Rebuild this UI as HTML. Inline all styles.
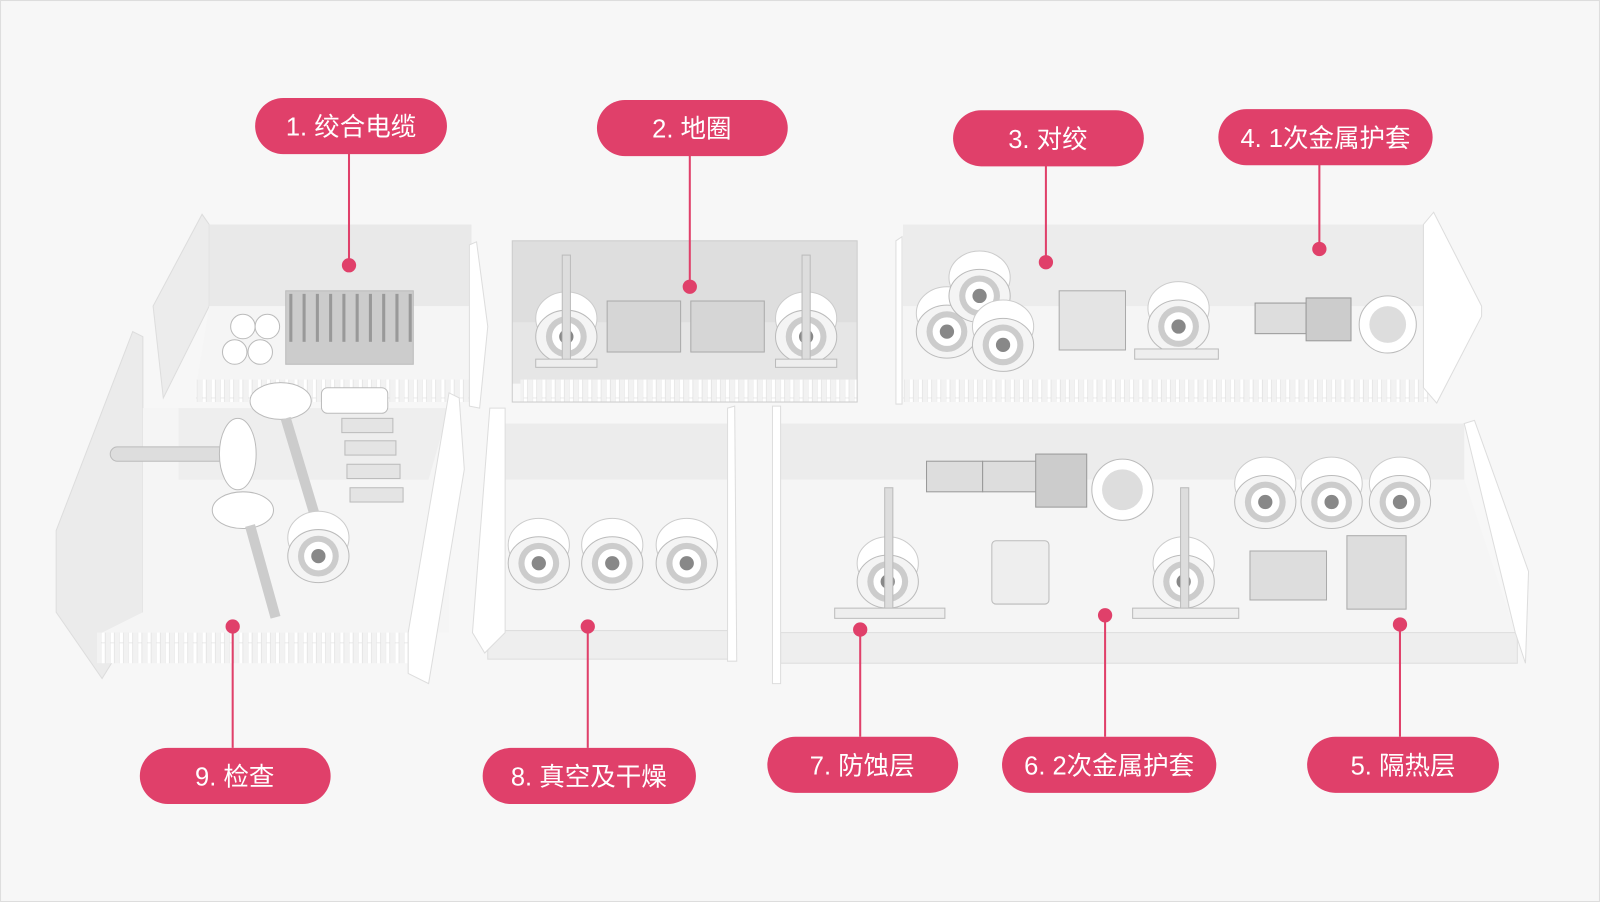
<!DOCTYPE html>
<html><head><meta charset="utf-8"><style>
html,body{margin:0;padding:0;background:#f7f7f7;}
svg{display:block}
text{font-family:"Liberation Sans","Noto Sans CJK SC",sans-serif;fill:#fff;font-size:25px;text-anchor:middle}
</style></head><body>
<svg width="1600" height="902" viewBox="0 0 1568 884" xmlns="http://www.w3.org/2000/svg">
<defs>
<pattern id="comb" width="9" height="30" patternUnits="userSpaceOnUse"><rect width="9" height="30" fill="#f2f2f2"/><rect x="0" width="4" height="30" fill="#fff" stroke="#ddd" stroke-width="0.6"/></pattern>
<g id="spool"><ellipse cx="0" cy="-18" rx="30" ry="26" fill="#fff" stroke="#ccc"/><ellipse cx="0" cy="0" rx="30" ry="26" fill="#f4f4f4" stroke="#bbb"/><circle r="20" fill="#ccc"/><circle r="14" fill="#fff"/><circle r="7" fill="#888"/></g>
</defs>
<rect x="0.5" y="0.5" width="1567" height="883" fill="#f7f7f7" stroke="#ddd"/>
<!-- Room 1 -->
<polygon points="150,300 198,210 205,220 205,300 160,390" fill="#ececec" stroke="#ddd"/>
<polygon points="205,220 462,220 462,300 205,300" fill="#e9e9e9"/>
<polygon points="205,300 462,300 462,380 192,380" fill="#f5f5f5"/>
<rect x="192" y="372" width="270" height="22" fill="url(#comb)"/>
<polygon points="460,240 467,237 478,320 470,400 460,398" fill="#fff" stroke="#ddd"/>
<rect x="280" y="285" width="125" height="72" fill="#ccc" stroke="#bbb"/>
<g stroke="#999" stroke-width="3"><line x1="285" y1="288" x2="285" y2="335"/><line x1="298" y1="288" x2="298" y2="335"/><line x1="311" y1="288" x2="311" y2="335"/><line x1="324" y1="288" x2="324" y2="335"/><line x1="337" y1="288" x2="337" y2="335"/><line x1="350" y1="288" x2="350" y2="335"/><line x1="363" y1="288" x2="363" y2="335"/><line x1="376" y1="288" x2="376" y2="335"/><line x1="389" y1="288" x2="389" y2="335"/><line x1="402" y1="288" x2="402" y2="335"/></g>
<g fill="#fff" stroke="#bbb"><circle cx="230" cy="345" r="12"/><circle cx="255" cy="345" r="12"/><circle cx="238" cy="320" r="12"/><circle cx="262" cy="320" r="12"/></g>
<!-- Room 2 -->
<rect x="502" y="236" width="338" height="80" fill="#dedede"/>
<rect x="502" y="316" width="338" height="60" fill="#e6e6e6"/>
<rect x="510" y="372" width="330" height="22" fill="url(#comb)"/>
<rect x="502" y="236" width="338" height="158" fill="none" stroke="#ccc"/>
<use href="#spool" x="555" y="330"/><use href="#spool" x="790" y="330"/>
<rect x="551" y="250" width="8" height="105" fill="#ddd" stroke="#bbb"/><rect x="786" y="250" width="8" height="105" fill="#ddd" stroke="#bbb"/>
<rect x="525" y="352" width="60" height="8" fill="#eee" stroke="#bbb"/><rect x="760" y="352" width="60" height="8" fill="#eee" stroke="#bbb"/>
<rect x="595" y="295" width="72" height="50" fill="#d6d6d6" stroke="#aaa"/><rect x="677" y="295" width="72" height="50" fill="#d6d6d6" stroke="#aaa"/>
<!-- Room 3/4 -->
<polygon points="885,220 1395,220 1395,300 885,300" fill="#ececec"/>
<polygon points="885,300 1395,300 1400,375 885,375" fill="#f5f5f5"/>
<rect x="885" y="372" width="515" height="22" fill="url(#comb)"/>
<polygon points="1395,220 1405,208 1452,300 1452,310 1408,395 1395,380" fill="#fff" stroke="#ddd"/>
<polygon points="878,236 884,232 884,396 878,396" fill="#fff" stroke="#ddd"/>
<use href="#spool" x="928" y="325"/><use href="#spool" x="960" y="290"/><use href="#spool" x="983" y="338"/><use href="#spool" x="1155" y="320"/>
<rect x="1038" y="285" width="65" height="58" fill="#e4e4e4" stroke="#aaa"/>
<rect x="1112" y="342" width="82" height="10" fill="#eee" stroke="#bbb"/>
<rect x="1230" y="297" width="50" height="30" fill="#ddd" stroke="#999"/>
<rect x="1280" y="292" width="44" height="42" fill="#ccc" stroke="#999"/>
<circle cx="1360" cy="318" r="28" fill="#fff" stroke="#bbb"/><circle cx="1360" cy="318" r="18" fill="#ddd"/>
<!-- Room 9 -->
<polygon points="55,520 130,325 140,330 140,600 100,665 55,600" fill="#ebebeb" stroke="#ddd"/>
<polygon points="140,400 440,400 440,620 100,620 140,600" fill="#f5f5f5"/>
<polygon points="175,400 440,400 420,470 175,470" fill="#eeeeee"/>
<rect x="95" y="620" width="310" height="30" fill="url(#comb)"/>
<polygon points="400,620 440,385 450,390 455,460 420,670 400,660" fill="#fff" stroke="#ddd"/>
<rect x="108" y="438" width="120" height="14" rx="7" fill="#ddd" stroke="#bbb"/>
<ellipse cx="233" cy="445" rx="18" ry="35" fill="#fff" stroke="#bbb"/>
<ellipse cx="275" cy="393" rx="30" ry="18" fill="#fff" stroke="#bbb"/>
<ellipse cx="238" cy="500" rx="30" ry="18" fill="#fff" stroke="#bbb"/>
<line x1="280" y1="410" x2="310" y2="510" stroke="#ccc" stroke-width="10"/>
<line x1="245" y1="515" x2="270" y2="605" stroke="#ccc" stroke-width="10"/>
<use href="#spool" x="312" y="545"/>
<rect x="315" y="380" width="65" height="25" rx="6" fill="#fff" stroke="#bbb"/>
<g fill="#e4e4e4" stroke="#bbb"><rect x="335" y="410" width="50" height="14"/><rect x="338" y="432" width="50" height="14"/><rect x="340" y="455" width="52" height="14"/><rect x="343" y="478" width="52" height="14"/></g>
<!-- Room 8 -->
<polygon points="495,415 715,415 715,470 495,470" fill="#ececec"/>
<polygon points="495,470 715,470 715,620 480,620" fill="#f5f5f5"/>
<rect x="478" y="618" width="237" height="28" fill="#eee" stroke="#ddd"/>
<polygon points="480,400 495,400 495,620 475,640 463,620" fill="#fff" stroke="#ddd"/>
<polygon points="713,400 720,398 722,648 713,648" fill="#fff" stroke="#ddd"/>
<use href="#spool" x="528" y="552"/><use href="#spool" x="600" y="552"/><use href="#spool" x="673" y="552"/>
<!-- Room 5/6/7 -->
<polygon points="765,415 1435,415 1435,470 765,470" fill="#ececec"/>
<polygon points="765,470 1435,470 1485,620 765,620" fill="#f5f5f5"/>
<rect x="765" y="620" width="722" height="30" fill="#eee" stroke="#ddd"/>
<polygon points="1435,415 1445,412 1498,560 1495,650 1485,620" fill="#fff" stroke="#ddd"/>
<polygon points="757,398 765,398 765,670 757,670" fill="#fff" stroke="#ddd"/>
<rect x="908" y="452" width="55" height="30" fill="#ddd" stroke="#999"/><rect x="963" y="452" width="55" height="30" fill="#ddd" stroke="#999"/>
<rect x="1015" y="445" width="50" height="52" fill="#ccc" stroke="#999"/>
<circle cx="1100" cy="480" r="30" fill="#fff" stroke="#bbb"/><circle cx="1100" cy="480" r="20" fill="#ddd"/>
<use href="#spool" x="1240" y="492"/><use href="#spool" x="1305" y="492"/><use href="#spool" x="1372" y="492"/>
<use href="#spool" x="870" y="570"/><use href="#spool" x="1160" y="570"/>
<rect x="867" y="478" width="8" height="120" fill="#ddd" stroke="#bbb"/><rect x="1157" y="478" width="8" height="120" fill="#ddd" stroke="#bbb"/>
<rect x="818" y="596" width="108" height="10" fill="#eee" stroke="#bbb"/><rect x="1110" y="596" width="104" height="10" fill="#eee" stroke="#bbb"/>
<rect x="972" y="530" width="56" height="62" rx="4" fill="#eee" stroke="#bbb"/>
<rect x="1225" y="540" width="75" height="48" fill="#ddd" stroke="#aaa"/>
<rect x="1320" y="525" width="58" height="72" fill="#ddd" stroke="#aaa"/>
<!-- connectors -->
<g stroke="#e0406a" stroke-width="2">
<line x1="342" y1="150" x2="342" y2="260"/><line x1="676" y1="152" x2="676" y2="281"/><line x1="1025" y1="162" x2="1025" y2="257"/><line x1="1293" y1="161" x2="1293" y2="244"/>
<line x1="1372" y1="612" x2="1372" y2="722"/><line x1="1083" y1="603" x2="1083" y2="722"/><line x1="843" y1="617" x2="843" y2="722"/><line x1="576" y1="614" x2="576" y2="733"/><line x1="228" y1="614" x2="228" y2="733"/>
</g>
<g fill="#e0406a">
<circle cx="342" cy="260" r="7"/><circle cx="676" cy="281" r="7"/><circle cx="1025" cy="257" r="7"/><circle cx="1293" cy="244" r="7"/>
<circle cx="1372" cy="612" r="7"/><circle cx="1083" cy="603" r="7"/><circle cx="843" cy="617" r="7"/><circle cx="576" cy="614" r="7"/><circle cx="228" cy="614" r="7"/>
<rect x="250" y="96" width="188" height="55" rx="27.5"/>
<rect x="585" y="98" width="187" height="55" rx="27.5"/>
<rect x="934" y="108" width="187" height="55" rx="27.5"/>
<rect x="1194" y="107" width="210" height="55" rx="27.5"/>
<rect x="1281" y="722" width="188" height="55" rx="27.5"/>
<rect x="982" y="722" width="210" height="55" rx="27.5"/>
<rect x="752" y="722" width="187" height="55" rx="27.5"/>
<rect x="473" y="733" width="209" height="55" rx="27.5"/>
<rect x="137" y="733" width="187" height="55" rx="27.5"/>
</g>
<text x="344" y="133">1. 绞合电缆</text>
<text x="678" y="135">2. 地圈</text>
<text x="1027" y="145">3. 对绞</text>
<text x="1299" y="144">4. 1次金属护套</text>
<text x="1375" y="759">5. 隔热层</text>
<text x="1087" y="759">6. 2次金属护套</text>
<text x="845" y="759">7. 防蚀层</text>
<text x="577" y="770">8. 真空及干燥</text>
<text x="230" y="770">9. 检查</text>
</svg>
</body></html>
